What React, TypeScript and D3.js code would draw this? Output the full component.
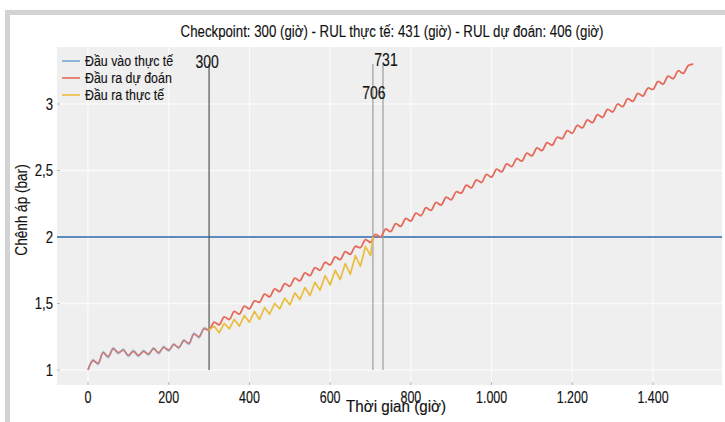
import React from 'react';
import * as d3 from 'd3';

const W = 725;
const H = 422;

const TITLE = 'Checkpoint: 300 (giờ) - RUL thực tế: 431 (giờ) - RUL dự đoán: 406 (giờ)';
const X_LABEL = 'Thời gian (giờ)';
const Y_LABEL = 'Chênh áp (bar)';
const LEGEND_LABELS = ['Đầu vào thực tế', 'Đầu ra dự đoán', 'Đầu ra thực tế'];
const X_TICKS = [0, 200, 400, 600, 800, 1000, 1200, 1400];
const Y_TICKS = [1, 1.5, 2, 2.5, 3];

const SAMPLE_HOURS = 12.5;

// Actual input (0 – 300 h)
const INPUT_VALUES = [
  1.0, 1.08, 1.04, 1.14, 1.09, 1.17, 1.12, 1.16, 1.1, 1.15, 1.1, 1.15, 1.11,
  1.17, 1.12, 1.18, 1.14, 1.2, 1.16, 1.23, 1.19, 1.28, 1.24, 1.32, 1.3,
];

// Predicted output (0 – 1500 h)
const PRED_VALUES = [
  1.0, 1.07, 1.05, 1.13, 1.1, 1.16, 1.13, 1.15, 1.11, 1.14, 1.11, 1.14, 1.12,
  1.16, 1.13, 1.17, 1.15, 1.19, 1.17, 1.22, 1.2, 1.27, 1.25, 1.31, 1.3,
  1.36, 1.34, 1.4, 1.38, 1.44, 1.42, 1.48, 1.46, 1.52, 1.51, 1.57, 1.55,
  1.61, 1.59, 1.65, 1.63, 1.69, 1.67, 1.73, 1.71, 1.77, 1.75, 1.81, 1.79,
  1.85, 1.83, 1.89, 1.87, 1.93, 1.92, 1.98, 1.96, 2.02, 2.0, 2.06, 2.04,
  2.1, 2.08, 2.14, 2.12, 2.18, 2.16, 2.22, 2.2, 2.26, 2.24, 2.3, 2.28,
  2.34, 2.33, 2.39, 2.37, 2.43, 2.41, 2.47, 2.45, 2.51, 2.49, 2.55, 2.53,
  2.59, 2.57, 2.63, 2.61, 2.67, 2.65, 2.71, 2.69, 2.75, 2.74, 2.8, 2.78,
  2.84, 2.82, 2.88, 2.86, 2.92, 2.9, 2.96, 2.94, 3.0, 2.98, 3.04, 3.02,
  3.08, 3.06, 3.12, 3.11, 3.17, 3.15, 3.21, 3.19, 3.25, 3.23, 3.29, 3.3,
];

// Actual output (300 – 706 h)
const ACTUAL_TIMES = [
  300, 312.5, 325, 337.5, 350, 362.5, 375, 387.5, 400, 412.5, 425, 437.5, 450,
  462.5, 475, 487.5, 500, 512.5, 525, 537.5, 550, 562.5, 575, 587.5, 600,
  612.5, 625, 637.5, 650, 662.5, 675, 687.5, 700, 706,
];
const ACTUAL_VALUES = [
  1.3, 1.33, 1.28, 1.35, 1.31, 1.38, 1.33, 1.41, 1.36, 1.44, 1.38, 1.47, 1.42,
  1.5, 1.46, 1.54, 1.49, 1.58, 1.53, 1.62, 1.56, 1.66, 1.6, 1.71, 1.64, 1.75,
  1.68, 1.8, 1.72, 1.86, 1.78, 1.93, 1.86, 2.0,
];

const THRESHOLD = 2;
const MARKER_HOURS = [300, 731, 706];
const MARKER_LABELS = ['300', '731', '706'];

const FONT = "'Liberation Sans', Arial, sans-serif";

const COLORS = {
  input: '#76a6d2',
  pred: '#e56a5a',
  actual: '#ebbd3e',
  threshold: '#5b8bbf',
};

type CTProps = {
  x: number;
  y: number;
  size: number;
  squeeze?: number;
  anchor?: 'start' | 'middle' | 'end';
  rotate?: number;
  children: React.ReactNode;
};

function CText({ x, y, size, squeeze = 0.78, anchor = 'start', rotate = 0, children }: CTProps) {
  return (
    <text
      transform={`translate(${x},${y}) rotate(${rotate}) scale(${squeeze},1)`}
      textAnchor={anchor}
      fontSize={size}
      fill="#111"
      stroke="#111"
      strokeWidth={0.15}
      fontFamily={FONT}
    >
      {children}
    </text>
  );
}

export default function App() {
  const plot = { left: 57, right: 722, top: 47, bottom: 385 };
  const x = d3.scaleLinear().domain([0, 1400]).range([88, 653]);
  const y = d3.scaleLinear().domain([1, 3]).range([370, 104]);

  const locale = d3.formatLocale({ decimal: ',', thousands: '.', grouping: [3], currency: ['', ''] });
  const fx = locale.format(',d');
  const fy = locale.format('~g');

  const smooth = d3
    .line<[number, number]>()
    .x((d) => x(d[0]))
    .y((d) => y(d[1]))
    .curve(d3.curveCatmullRom.alpha(0.5));
  const sharp = d3
    .line<[number, number]>()
    .x((d) => x(d[0]))
    .y((d) => y(d[1]));

  const inputPts: [number, number][] = INPUT_VALUES.map((v, i) => [i * SAMPLE_HOURS, v]);
  const predPts: [number, number][] = PRED_VALUES.map((v, i) => [i * SAMPLE_HOURS, v]);
  const actualPts: [number, number][] = ACTUAL_TIMES.map((t, i) => [t, ACTUAL_VALUES[i]]);

  const vMin = d3.min(PRED_VALUES) as number;
  const vMax = d3.max(PRED_VALUES) as number;

  const legendColors = [COLORS.input, COLORS.pred, COLORS.actual];
  const markerStyles = [
    { color: '#555', labelY: 68, dx: -2 },
    { color: '#9c9c9c', labelY: 66, dx: 3 },
    { color: '#9c9c9c', labelY: 99, dx: 1 },
  ];

  return (
    <svg
      width={W}
      height={H}
      style={{ position: 'absolute', left: 0, top: 0, background: '#fff' }}
      fontFamily={FONT}
    >
      <rect x={0} y={0} width={W} height={H} fill="#ffffff" />
      {/* frame */}
      <rect x={5} y={10} width={W - 5} height={5} fill="#d3d3d3" />
      <rect x={5} y={10} width={5} height={H - 10} fill="#d3d3d3" />

      {/* plot background */}
      <rect
        x={plot.left}
        y={plot.top}
        width={plot.right - plot.left}
        height={plot.bottom - plot.top}
        fill="#efefef"
      />

      {/* grid */}
      {X_TICKS.map((t) => (
        <line key={'gx' + t} x1={x(t)} x2={x(t)} y1={plot.top} y2={plot.bottom} stroke="#fafafa" strokeWidth={1.3} />
      ))}
      {Y_TICKS.map((t) => (
        <line key={'gy' + t} x1={plot.left} x2={plot.right} y1={y(t)} y2={y(t)} stroke="#fafafa" strokeWidth={1.3} />
      ))}

      {/* ticks */}
      {X_TICKS.map((t) => (
        <line key={'tx' + t} x1={x(t)} x2={x(t)} y1={plot.bottom - 3} y2={plot.bottom} stroke="#b5b5b5" strokeWidth={1} />
      ))}
      {Y_TICKS.map((t) => (
        <line key={'ty' + t} x1={plot.left} x2={plot.left + 3} y1={y(t)} y2={y(t)} stroke="#b5b5b5" strokeWidth={1} />
      ))}

      {/* threshold */}
      <line
        x1={plot.left}
        x2={plot.right}
        y1={y(THRESHOLD)}
        y2={y(THRESHOLD)}
        stroke={COLORS.threshold}
        strokeWidth={1.9}
      />

      {/* markers */}
      {MARKER_HOURS.map((t, i) => (
        <g key={'m' + t}>
          <line
            x1={x(t)}
            x2={x(t)}
            y1={y(vMin)}
            y2={y(vMax)}
            stroke={markerStyles[i].color}
            strokeWidth={1.2}
          />
          <CText x={x(t) + markerStyles[i].dx} y={markerStyles[i].labelY} size={17.5} squeeze={0.8} anchor="middle">
            {MARKER_LABELS[i]}
          </CText>
        </g>
      ))}

      {/* series */}
      <path d={smooth(predPts) || ''} fill="none" stroke={COLORS.pred} strokeWidth={1.8} strokeLinejoin="round" />
      <path d={smooth(inputPts) || ''} fill="none" stroke={COLORS.input} strokeWidth={1.5} strokeLinejoin="round" opacity={0.5} />
      <path d={sharp(actualPts) || ''} fill="none" stroke={COLORS.actual} strokeWidth={1.7} strokeLinejoin="round" />

      {/* axis labels */}
      {X_TICKS.map((t) => (
        <CText key={'lx' + t} x={x(t)} y={403} size={16} squeeze={0.78} anchor="middle">
          {fx(t)}
        </CText>
      ))}
      {Y_TICKS.map((t) => (
        <CText key={'ly' + t} x={53} y={y(t) + 5.5} size={16.5} squeeze={0.8} anchor="end">
          {fy(t)}
        </CText>
      ))}

      <CText x={396} y={412} size={16} squeeze={0.95} anchor="middle">
        {X_LABEL}
      </CText>
      <CText x={27} y={210} size={16} squeeze={0.85} anchor="middle" rotate={-90}>
        {Y_LABEL}
      </CText>

      {/* title */}
      <CText x={392} y={37} size={17} squeeze={0.78} anchor="middle">
        {TITLE}
      </CText>

      {/* legend */}
      {LEGEND_LABELS.map((lab, i) => (
        <g key={'lg' + i}>
          <line x1={62} x2={80} y1={61 + i * 17} y2={61 + i * 17} stroke={legendColors[i]} strokeWidth={1.6} />
          <CText x={85} y={66 + i * 17} size={15.5} squeeze={0.8}>
            {lab}
          </CText>
        </g>
      ))}
    </svg>
  );
}
